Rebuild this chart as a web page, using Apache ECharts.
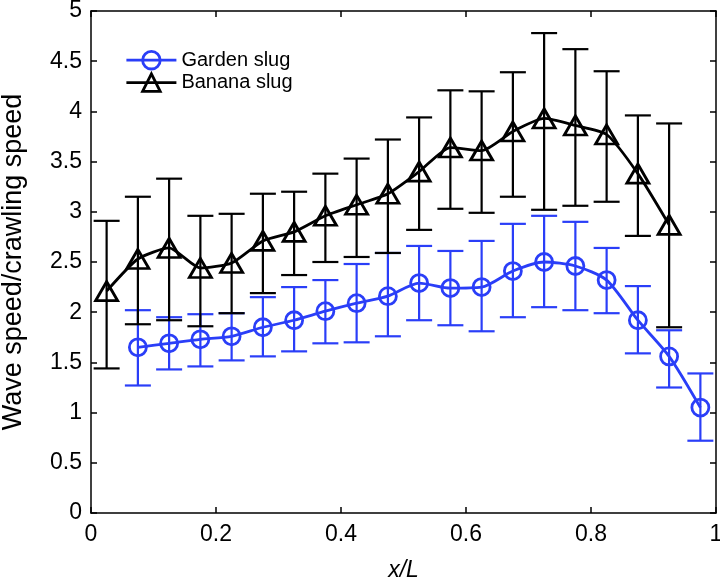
<!DOCTYPE html>
<html>
<head>
<meta charset="utf-8">
<script src="https://cdn.jsdelivr.net/npm/echarts@6/dist/echarts.min.js"></script>
<style>html,body{margin:0;padding:0;background:#fff}#c{width:720px;height:579px}</style>
</head>
<body>
<div id="c"></div>
<script>
const xPositions = [0.025,0.075,0.125,0.175,0.225,0.275,0.325,0.375,0.425,0.475,0.525,0.575,0.625,0.675,0.725,0.775,0.825,0.875,0.925,0.975];
const gardenMean = [null,1.65,1.69,1.73,1.76,1.85,1.92,2.01,2.09,2.16,2.29,2.24,2.25,2.41,2.50,2.46,2.32,1.92,1.56,1.05];
const gardenLow  = [null,1.27,1.43,1.46,1.52,1.56,1.61,1.69,1.70,1.76,1.92,1.87,1.81,1.95,2.05,2.02,1.99,1.59,1.25,0.72];
const gardenHigh = [null,2.02,1.95,1.98,1.99,2.15,2.25,2.32,2.48,2.59,2.66,2.61,2.71,2.88,2.96,2.90,2.64,2.26,1.82,1.39];
const bananaMean = [2.21,2.53,2.64,2.44,2.49,2.71,2.80,2.96,3.07,3.18,3.40,3.64,3.61,3.80,3.93,3.86,3.77,3.38,2.87,null];
const bananaLow  = [1.44,1.88,1.92,1.86,1.99,2.19,2.37,2.50,2.55,2.59,2.82,3.03,2.99,3.15,3.02,3.06,3.10,2.76,1.85,null];
const bananaHigh = [2.91,3.15,3.33,2.96,2.98,3.18,3.20,3.38,3.53,3.72,3.94,4.21,4.20,4.39,4.78,4.62,4.40,3.96,3.88,null];
const xTicks = [0,0.2,0.4,0.6,0.8,1];
const yTicks = [0,0.5,1,1.5,2,2.5,3,3.5,4,4.5,5];

const BLUE = '#2a3ef8';
const BLACK = '#000';
const FONT = 'Liberation Sans, Arial, Helvetica, sans-serif';

function pts(means){ return xPositions.map((x,i)=> means[i]==null ? null : [x, means[i]]).filter(p=>p); }
function errs(low, high){ return xPositions.map((x,i)=> low[i]==null ? null : [x, low[i], high[i]]).filter(p=>p); }

function errRender(color){
  return function(params, api){
    const x = api.value(0), lo = api.value(1), hi = api.value(2);
    const a = api.coord([x, lo]), b = api.coord([x, hi]);
    const hw = 13;
    const st = {stroke: color, lineWidth: 2.2};
    return {type:'group', children:[
      {type:'line', shape:{x1:a[0],y1:a[1],x2:b[0],y2:b[1]}, style:st},
      {type:'line', shape:{x1:a[0]-hw,y1:a[1],x2:a[0]+hw,y2:a[1]}, style:st},
      {type:'line', shape:{x1:b[0]-hw,y1:b[1],x2:b[0]+hw,y2:b[1]}, style:st}
    ]};
  };
}

function axisBase(){
  return {
    type:'value',
    axisLine:{show:true, onZero:false, lineStyle:{color:'#000', width:1.5}},
    axisTick:{show:true, inside:true, length:6, lineStyle:{color:'#000', width:1.5}},
    splitLine:{show:false}
  };
}

const chart = echarts.init(document.getElementById('c'), null, {renderer:'canvas'});
chart.setOption({
  animation:false,
  backgroundColor:'#fff',
  grid:{left:91, right:4, top:11, bottom:66, containLabel:false, outerBoundsMode:'none'},
  legend:{
    left:120, top:45, orient:'vertical', itemWidth:50, itemHeight:22, itemGap:2,
    textStyle:{fontFamily:FONT, fontSize:20, color:'#000'},
    itemStyle:{borderWidth:2.8},
    lineStyle:{width:2.8},
    data:['Garden slug','Banana slug']
  },
  xAxis:[
    Object.assign(axisBase(), {
      min:0, max:1, interval:0.2, position:'bottom',
      axisLabel:{fontFamily:FONT, fontSize:23, color:'#000', margin:10, formatter:v=>String(+v.toFixed(1))},
      name:'x/L', nameLocation:'middle', nameGap:46,
      nameTextStyle:{fontFamily:FONT, fontSize:23, fontStyle:'italic', color:'#000'}
    }),
    Object.assign(axisBase(), {min:0, max:1, interval:0.2, position:'top', axisLabel:{show:false}})
  ],
  yAxis:[
    Object.assign(axisBase(), {
      min:0, max:5, interval:0.5, position:'left',
      axisLabel:{fontFamily:FONT, fontSize:23, color:'#000', margin:9, formatter:v=>String(+v.toFixed(1))},
      name:'Wave speed/crawling speed', nameLocation:'middle', nameGap:64,
      nameTextStyle:{fontFamily:FONT, fontSize:27, color:'#000'}
    }),
    Object.assign(axisBase(), {min:0, max:5, interval:0.5, position:'right', axisLabel:{show:false}})
  ],
  series:[
    {type:'custom', name:'gardenErr', renderItem:errRender(BLUE), data:errs(gardenLow,gardenHigh), encode:{x:0,y:[1,2]}, z:2, silent:true},
    {type:'custom', name:'bananaErr', renderItem:errRender(BLACK), data:errs(bananaLow,bananaHigh), encode:{x:0,y:[1,2]}, z:2, silent:true},
    {type:'line', name:'Garden slug', data:pts(gardenMean), smooth:0.25, symbol:'circle', symbolSize:17,
     lineStyle:{color:BLUE, width:2.8}, itemStyle:{color:'rgba(255,255,255,0)', borderColor:BLUE, borderWidth:2.8}, z:3},
    {type:'line', name:'Banana slug', data:pts(bananaMean), smooth:0.2, symbol:'triangle', symbolSize:[22,19],
     lineStyle:{color:BLACK, width:2.8}, itemStyle:{color:'rgba(255,255,255,0)', borderColor:BLACK, borderWidth:2.8}, z:3}
  ]
});
</script>
</body>
</html>
